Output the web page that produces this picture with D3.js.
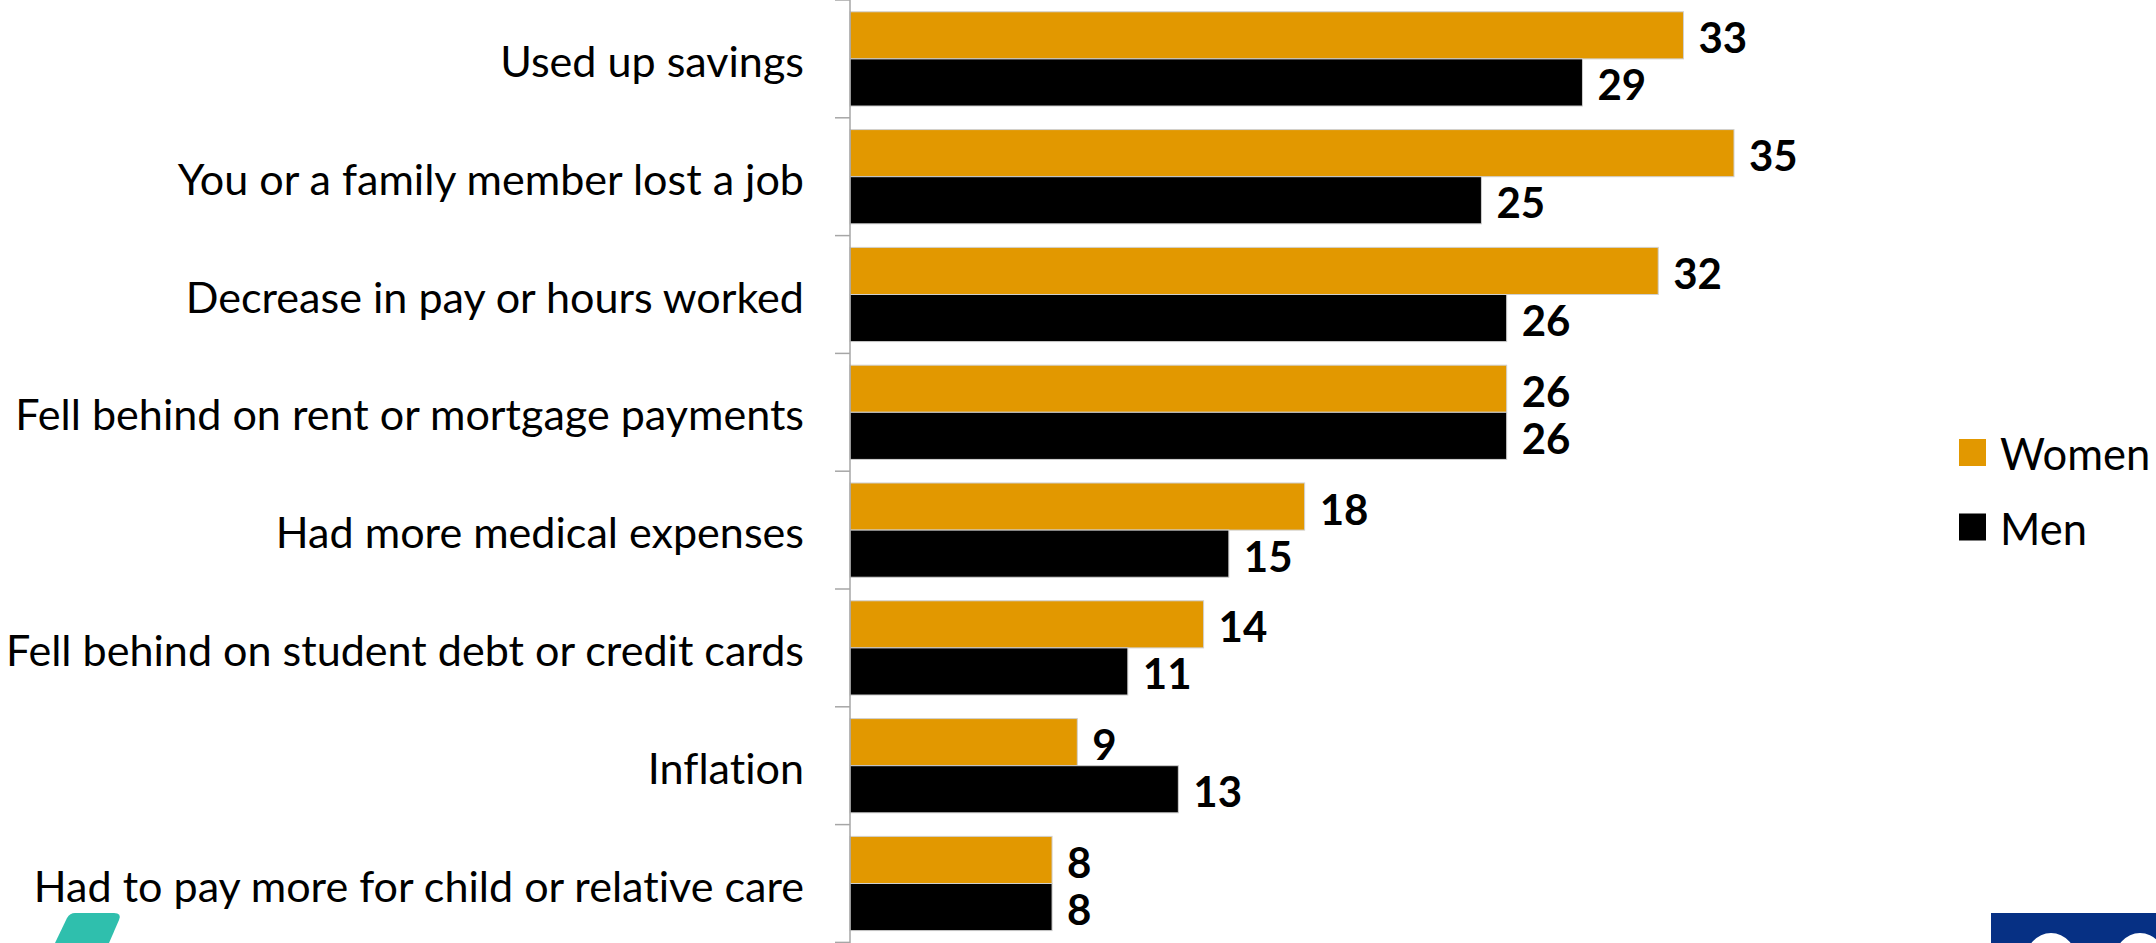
<!DOCTYPE html>
<html>
<head>
<meta charset="utf-8">
<script src="https://cdn.jsdelivr.net/npm/d3@7"></script>
<style>
  html, body { margin: 0; padding: 0; background: #fff; }
  svg { display: block; }
  text { font-variant-ligatures: none; }
</style>
</head>
<body>
<svg id="chart" width="2156" height="943"></svg>
<script>
// Financial hardships reported, by gender (%)
const categories = [
  "Used up savings",
  "You or a family member lost a job",
  "Decrease in pay or hours worked",
  "Fell behind on rent or mortgage payments",
  "Had more medical expenses",
  "Fell behind on student debt or credit cards",
  "Inflation",
  "Had to pay more for child or relative care"
];
const seriesNames = ["Women", "Men"];
const women = [33, 35, 32, 26, 18, 14, 9, 8];
const men   = [29, 25, 26, 26, 15, 11, 13, 8];
const seriesColors = ["#e29800", "#000000"];

const W = 2156, H = 943;
const svg = d3.select("#chart");
const font = "Lato, 'Noto Sans', sans-serif";

const axisX = 850;
const x = d3.scaleLinear().domain([0, 35]).range([axisX, axisX + 884]);

const y0 = d3.scaleBand()
  .domain(categories)
  .range([0, 942.4])
  .paddingInner(0.2)
  .paddingOuter(0.1);

const y1 = d3.scaleBand()
  .domain(seriesNames)
  .range([0, y0.bandwidth()]);

const color = d3.scaleOrdinal().domain(seriesNames).range(seriesColors);

const rows = categories.map((c, i) => ({
  category: c,
  values: [
    { series: "Women", value: women[i] },
    { series: "Men", value: men[i] }
  ]
}));

// bars
const groups = svg.append("g")
  .selectAll("g")
  .data(rows)
  .join("g")
  .attr("transform", d => `translate(0,${y0(d.category)})`);

groups.selectAll("rect")
  .data(d => d.values)
  .join("rect")
  .attr("x", x(0))
  .attr("y", d => y1(d.series))
  .attr("width", d => x(d.value) - x(0))
  .attr("height", y1.bandwidth())
  .attr("fill", d => color(d.series))
  .attr("stroke", "#d0d0d0")
  .attr("stroke-width", 1);

// value labels
groups.selectAll("text")
  .data(d => d.values)
  .join("text")
  .attr("x", d => x(d.value) + 15)
  .attr("y", d => y1(d.series) + y1.bandwidth() / 2 + 2)
  .attr("dominant-baseline", "central")
  .attr("font-family", font)
  .attr("font-weight", 700)
  .attr("font-size", 42)
  .attr("fill", "#000")
  .text(d => d.value);

// category axis: vertical line with ticks at band boundaries
const step = y0.step();
const axisG = svg.append("g").attr("stroke", "#a6a6a6").attr("stroke-width", 1.5);
axisG.append("line")
  .attr("x1", axisX).attr("x2", axisX)
  .attr("y1", 0).attr("y2", H);
const tickYs = [0].concat(categories.map(c => y0(c) + y0.bandwidth() + step * y0.paddingOuter()));
axisG.selectAll("line.tick")
  .data(tickYs)
  .join("line")
  .attr("class", "tick")
  .attr("x1", axisX - 15).attr("x2", axisX)
  .attr("y1", d => d).attr("y2", d => d);

// category labels
svg.append("g")
  .selectAll("text")
  .data(categories)
  .join("text")
  .attr("x", 804)
  .attr("y", d => y0(d) + y0.bandwidth() / 2 + 1)
  .attr("text-anchor", "end")
  .attr("dominant-baseline", "central")
  .attr("font-family", font)
  .attr("font-size", 43.1)
  .attr("fill", "#000")
  .text(d => d);

// legend
const legend = svg.append("g")
  .selectAll("g")
  .data(seriesNames)
  .join("g")
  .attr("transform", (d, i) => `translate(1959,${439 + i * 74.5})`);
legend.append("rect")
  .attr("width", 27).attr("height", 27)
  .attr("fill", d => color(d));
legend.append("text")
  .attr("x", 41)
  .attr("y", 14)
  .attr("dominant-baseline", "central")
  .attr("font-family", font)
  .attr("font-size", 43.5)
  .attr("fill", "#000")
  .text(d => d);

// logo fragments along the bottom edge
svg.append("path")
  .attr("d", "M75,913 L114,913 Q122,913 119,920 L109,943 L55,943 L67,918 Q70,913 75,913 Z")
  .attr("fill", "#2fbfad");

const logo = svg.append("g");
logo.append("rect")
  .attr("x", 1991).attr("y", 913)
  .attr("width", W - 1991).attr("height", H - 913)
  .attr("fill", "#063084");
const clip = svg.append("clipPath").attr("id", "logoClip");
clip.append("rect").attr("x", 1991).attr("y", 913).attr("width", W - 1991).attr("height", H - 913);
const letters = logo.append("g").attr("clip-path", "url(#logoClip)");
letters.append("ellipse").attr("cx", 2051).attr("cy", 962).attr("rx", 26).attr("ry", 29).attr("fill", "#fff");
letters.append("ellipse").attr("cx", 2051).attr("cy", 962).attr("rx", 12).attr("ry", 16).attr("fill", "#063084");
letters.append("ellipse").attr("cx", 2140).attr("cy", 962).attr("rx", 26).attr("ry", 29).attr("fill", "#fff");
</script>
</body>
</html>
